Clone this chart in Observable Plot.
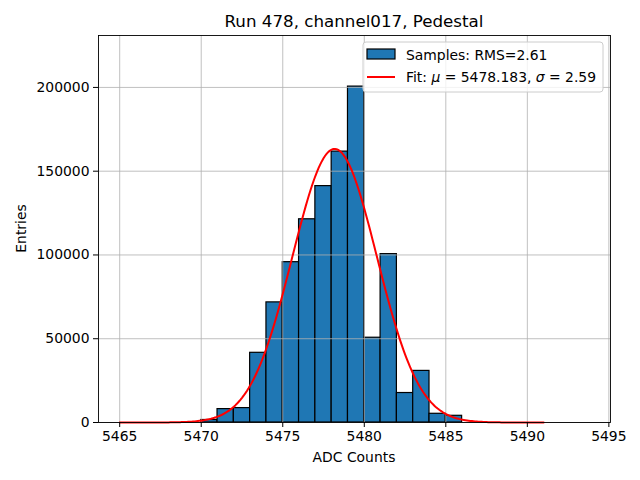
<!DOCTYPE html>
<html><head><meta charset="utf-8">
<script src="https://cdn.jsdelivr.net/npm/d3@7"></script>
<script src="https://cdn.jsdelivr.net/npm/@observablehq/plot@0.6"></script>
<style>body{margin:0;background:white}</style>
</head><body><div id="chart"></div>
<script>
// Histogram bins (left edges, width 1 ADC count) and entries
const binStarts = [5470, 5471, 5472, 5473, 5474, 5475, 5476, 5477, 5478, 5479, 5480, 5481, 5482, 5483, 5484, 5485];
const counts    = [1500, 8000, 8600, 41600, 71700, 95700, 121300, 141100, 161700, 200500, 50600, 100500, 17600, 30800, 5200, 4000];
const binWidth = 1;
const xTicks = [5465, 5470, 5475, 5480, 5485, 5490, 5495];
const yTicks = [0, 50000, 100000, 150000, 200000];
// Gaussian fit parameters (from legend) and fitted amplitude
const fitMu = 5478.183;
const fitSigma = 2.59;
const fitAmplitude = 163300;
const fitRange = [5465, 5491];
const fitSamples = 261;

const bars = binStarts.map((s, i) => ({x1: s, x2: s + binWidth, y: counts[i]}));
const fit = d3.range(fitSamples).map(i => {
  const x = fitRange[0] + (fitRange[1] - fitRange[0]) * i / (fitSamples - 1);
  return {x, y: fitAmplitude * Math.exp(-0.5 * ((x - fitMu) / fitSigma) ** 2)};
});

const W = 640, H = 480;
const mL = 98, mR = 30, mT = 35, mB = 58;
const fs = 13.9;

const svg = Plot.plot({
  width: W, height: H,
  marginLeft: mL, marginRight: mR, marginTop: mT, marginBottom: mB,
  style: {fontFamily: "DejaVu Sans", fontSize: fs + "px", color: "black", background: "white"},
  x: {domain: [5463.7, 5495.1], ticks: xTicks, tickFormat: d => String(d), label: null},
  y: {domain: [0, 231000], ticks: yTicks, tickFormat: d => String(d), label: null},
  marks: [
    Plot.rectY(bars, {x1: "x1", x2: "x2", y: "y", fill: "#1f77b4", stroke: "black", strokeWidth: 1.2}),
    Plot.gridX(xTicks, {stroke: "#b0b0b0", strokeOpacity: 1, strokeWidth: 0.8}),
    Plot.gridY(yTicks, {stroke: "#b0b0b0", strokeOpacity: 1, strokeWidth: 0.8}),
    Plot.line(fit, {x: "x", y: "y", stroke: "red", strokeWidth: 2}),
    Plot.frame({stroke: "black", strokeWidth: 0.9}),
    Plot.axisX({ticks: xTicks, tickFormat: d => String(d), tickSize: 5, tickPadding: 4, label: null, fontSize: fs}),
    Plot.axisY({ticks: yTicks, tickFormat: d => String(d), tickSize: 5, tickPadding: 4, label: null, fontSize: fs})
  ]
});

const s = d3.select(svg);
const cx = mL + (W - mL - mR) / 2;
s.append("text").attr("x", cx).attr("y", 27).attr("text-anchor", "middle")
  .attr("font-size", 16.7).attr("fill", "black").text("Run 478, channel017, Pedestal");
s.append("text").attr("x", cx).attr("y", 462).attr("text-anchor", "middle")
  .attr("font-size", fs).attr("fill", "black").text("ADC Counts");
s.append("text").attr("transform", `translate(26,${mT + (H - mT - mB) / 2}) rotate(-90)`)
  .attr("text-anchor", "middle").attr("font-size", fs).attr("fill", "black").text("Entries");

// Legend
const lg = s.append("g").attr("text-anchor", "start");
lg.append("rect").attr("x", 363).attr("y", 42).attr("width", 240).attr("height", 50)
  .attr("rx", 3).attr("fill", "white").attr("fill-opacity", 0.8).attr("stroke", "#cccccc").attr("stroke-width", 1);
lg.append("rect").attr("x", 367).attr("y", 49).attr("width", 28).attr("height", 10)
  .attr("fill", "#1f77b4").attr("stroke", "black").attr("stroke-width", 1.2);
lg.append("line").attr("x1", 367).attr("x2", 395).attr("y1", 77).attr("y2", 77)
  .attr("stroke", "red").attr("stroke-width", 2);
lg.append("text").attr("x", 406).attr("y", 59.5).attr("text-anchor", "start").attr("font-size", fs).attr("fill", "black").text("Samples: RMS=2.61");
const t2 = lg.append("text").attr("x", 406).attr("y", 81.5).attr("text-anchor", "start").attr("font-size", fs).attr("fill", "black");
t2.append("tspan").text("Fit: ");
t2.append("tspan").attr("font-style", "italic").text("μ");
t2.append("tspan").text(" = 5478.183, ");
t2.append("tspan").attr("font-style", "italic").text("σ");
t2.append("tspan").text(" = 2.59");

document.getElementById("chart").appendChild(svg);
</script>
</body></html>
